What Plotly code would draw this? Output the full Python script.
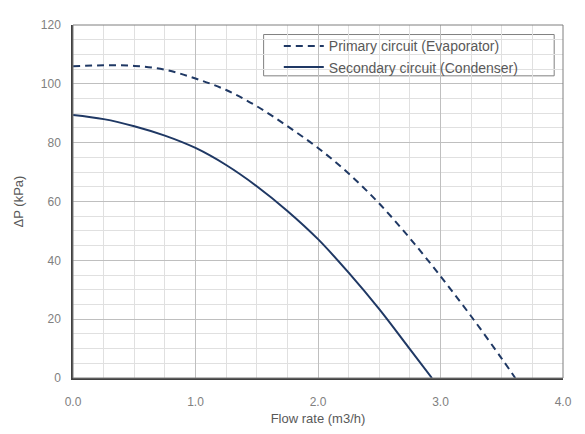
import plotly.graph_objects as go

# Data
primary_x = [0.0, 0.25, 0.5, 0.75, 1.0, 1.25, 1.5, 1.75, 2.0, 2.25, 2.5, 2.75, 3.0, 3.25, 3.5, 3.61]
primary_y = [106.0, 106.3, 106.1, 104.8, 101.8, 97.9, 92.4, 85.6, 78.2, 69.5, 59.3, 47.5, 34.6, 21.0, 6.6, 0.0]

secondary_x = [0.0, 0.25, 0.5, 0.75, 1.0, 1.25, 1.5, 1.75, 2.0, 2.25, 2.5, 2.75, 2.93]
secondary_y = [89.4, 88.0, 85.6, 82.4, 78.2, 72.4, 65.2, 56.8, 47.2, 35.8, 23.4, 9.8, 0.0]

x_tick_vals = [0.0, 1.0, 2.0, 3.0, 4.0]
x_tick_text = ["0.0", "1.0", "2.0", "3.0", "4.0"]
y_tick_vals = [0, 20, 40, 60, 80, 100, 120]

series_names = ["Primary circuit (Evaporator)", "Secondary circuit (Condenser)"]

LINE = "#1F3864"
FONT = "Liberation Sans, Arial, sans-serif"

fig = go.Figure()
fig.add_trace(go.Scatter(x=primary_x, y=primary_y, mode="lines", name=series_names[0],
                         line=dict(color=LINE, width=2, dash="7px,5px", shape="spline", smoothing=1.0)))
fig.add_trace(go.Scatter(x=secondary_x, y=secondary_y, mode="lines", name=series_names[1],
                         line=dict(color=LINE, width=2, shape="spline", smoothing=1.0)))

fig.update_layout(
    width=577, height=426,
    margin=dict(l=64, r=22, t=10, b=48),
    paper_bgcolor="white", plot_bgcolor="white",
    font=dict(family=FONT, size=12, color="#808080"),
    showlegend=True,
    legend=dict(x=0.42, y=0.985, xanchor="left", yanchor="top",
                bgcolor="rgba(0,0,0,0)", borderwidth=0,
                font=dict(family=FONT, size=14, color="#595959"),
                itemwidth=40, tracegroupgap=0),
)

fig.update_xaxes(
    range=[0, 4], tickvals=x_tick_vals, ticktext=x_tick_text,
    showgrid=True, gridcolor="#BFBFBF", gridwidth=1,
    minor=dict(dtick=0.25, showgrid=True, gridcolor="#E0E0E0", gridwidth=1),
    showline=True, linecolor="#404040", linewidth=1.5, mirror=False,
    zeroline=False, ticks="", ticklabelstandoff=12,
    tickfont=dict(family=FONT, size=12, color="#808080"),
    title=dict(text="Flow rate (m3/h)", font=dict(family=FONT, size=13, color="#595959"), standoff=6),
)
fig.update_yaxes(
    range=[0, 120], tickvals=y_tick_vals,
    showgrid=True, gridcolor="#BFBFBF", gridwidth=1,
    minor=dict(dtick=5, showgrid=True, gridcolor="#E0E0E0", gridwidth=1),
    showline=True, linecolor="#404040", linewidth=1.5, mirror=False,
    zeroline=False, ticks="", ticklabelstandoff=8,
    tickfont=dict(family=FONT, size=12, color="#808080"),
    title=dict(text="ΔP (kPa)", font=dict(family=FONT, size=13, color="#595959"), standoff=14),
)

# frame top/right
fig.add_shape(type="rect", xref="paper", yref="paper", x0=0, y0=0, x1=1, y1=1,
              line=dict(color="#7F7F7F", width=1), layer="above")
# legend box
fig.add_shape(type="rect", xref="paper", yref="paper", x0=0.389, y0=0.856, x1=0.982, y1=0.973,
              line=dict(color="#808080", width=1), fillcolor="white", layer="between")

fig.write_html("out.html")
